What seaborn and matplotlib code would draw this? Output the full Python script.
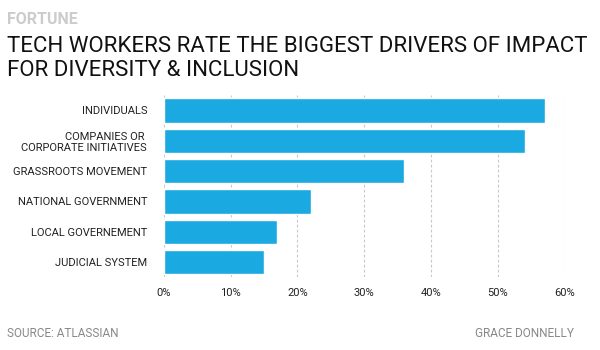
import pandas as pd
import matplotlib.pyplot as plt
import seaborn as sns

# values (percent of tech workers)
drivers = ['INDIVIDUALS', 'COMPANIES OR \nCORPORATE INITIATIVES', 'GRASSROOTS MOVEMENT',
           'NATIONAL GOVERNMENT', 'LOCAL GOVERNEMENT', 'JUDICIAL SYSTEM']
shares = [57, 54, 36, 22, 17, 15]
tick_vals = [0, 10, 20, 30, 40, 50, 60]
tick_labels = ['0%', '10%', '20%', '30%', '40%', '50%', '60%']

df = pd.DataFrame({'driver': drivers, 'share': shares})

sns.set_style('white')
plt.rcParams['font.family'] = ['Roboto', 'DejaVu Sans']

fig = plt.figure(figsize=(6, 3.5), dpi=100)
ax = fig.add_axes([0.273, 0.208, 0.668, 0.520])

sns.barplot(data=df, x='share', y='driver', color='#1aa9e1', saturation=1,
            width=0.8, ax=ax, zorder=2)

ax.set_xlim(0, 60)
ax.set_ylim(5.5, -0.5)
ax.set_xticks(tick_vals)
ax.set_xticklabels(tick_labels, fontsize=8, color='#222222')
ax.tick_params(axis='x', length=0, pad=8)
ax.tick_params(axis='y', length=0, pad=12)
for lab in ax.get_yticklabels():
    lab.set_fontsize(8)
    lab.set_color('#222222')
    lab.set_linespacing(1.15)
ax.set_xlabel('')
ax.set_ylabel('')
ax.xaxis.grid(True, color='#c8c8c8', linestyle=(0, (2.5, 2)), linewidth=0.8, zorder=0)
ax.set_axisbelow(True)
sns.despine(ax=ax, left=True, bottom=True)

fig.text(0.012, 0.944, 'FORTUNE', fontsize=11.5, fontweight='bold', color='#cccccc', va='center')
fig.text(0.012, 0.834, 'TECH WORKERS RATE THE BIGGEST DRIVERS OF IMPACT\nFOR DIVERSITY & INCLUSION',
         fontsize=16, color='#111111', va='center', linespacing=1.2)
fig.text(0.012, 0.048, 'SOURCE: ATLASSIAN', fontsize=8.5, color='#888888', va='center')
fig.text(0.957, 0.048, 'GRACE DONNELLY', fontsize=8.5, color='#888888', va='center', ha='right')

fig.savefig('out.png', dpi=100)
